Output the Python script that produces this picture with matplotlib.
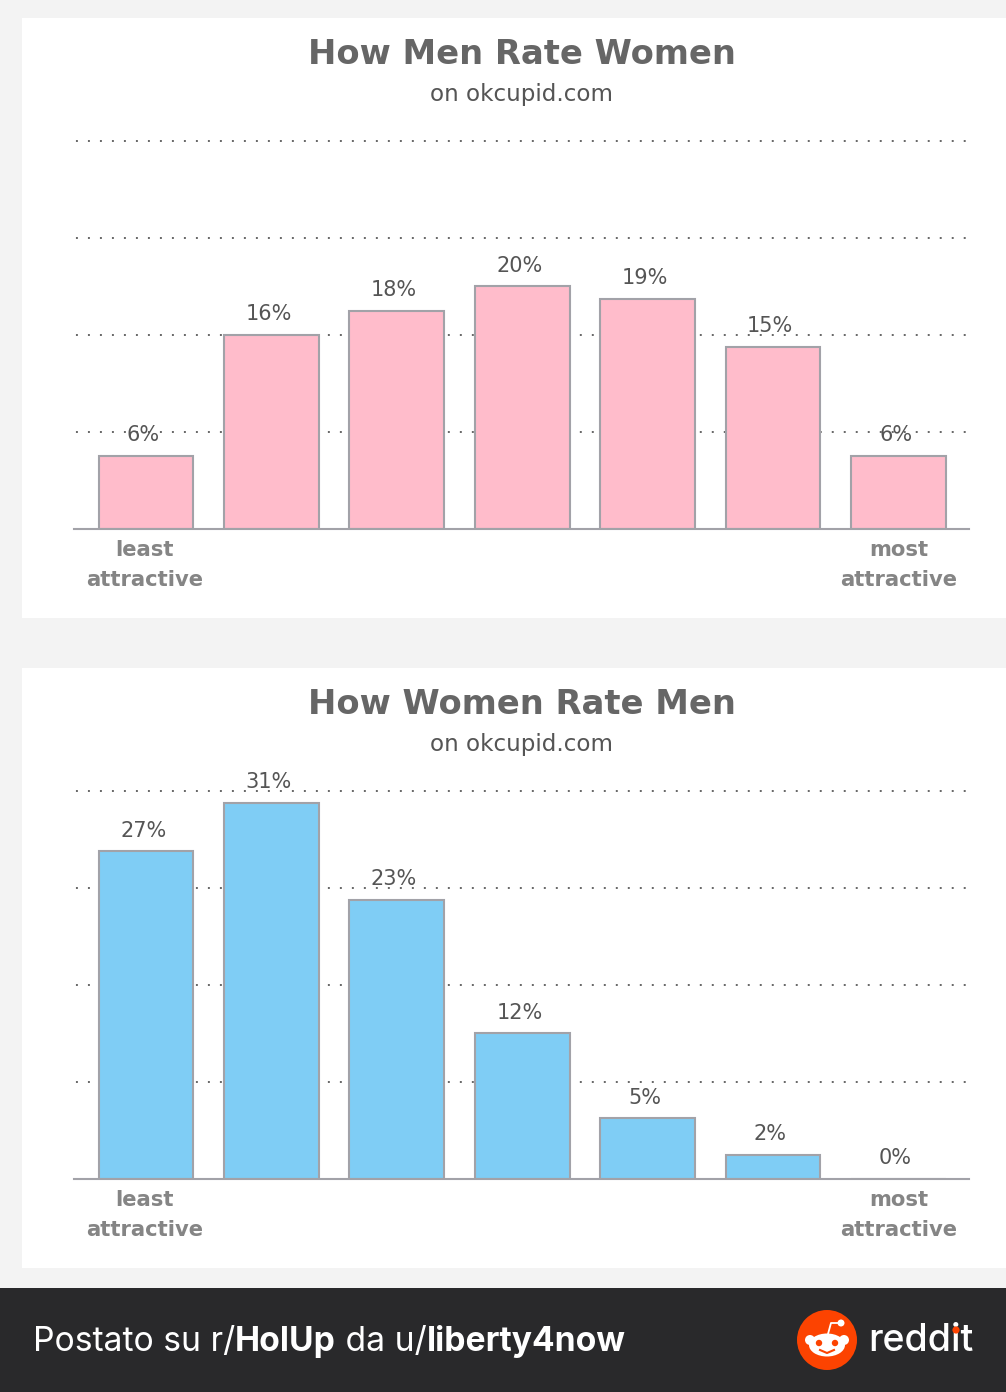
import matplotlib
matplotlib.use("Agg")
import matplotlib.pyplot as plt
from matplotlib.patches import Circle, Ellipse, Rectangle

W, H = 1006, 1392
BG, WHITE, DARK = "#f3f3f3", "#ffffff", "#29292b"
EDGE, TITLE, SUB, LABEL = "#a2a2a8", "#666666", "#555555", "#858585"

positions = [0, 1, 2, 3, 4, 5, 6]
men_rate_women = [6, 16, 18, 20, 19, 15, 6]
women_rate_men = [27, 31, 23, 12, 5, 2, 0]
grid_values = [8, 16, 24, 32]
end_labels = ["least\nattractive", "most\nattractive"]


def chart(fig, bg, top, title, values, color):
    # top = pixel y of the white panel; everything else hangs off it
    bg.add_patch(Rectangle((22, top), W - 22, 600, color=WHITE, lw=0))
    bg.text(522, top + 37, title, ha="center", va="center", fontsize=24.3,
            fontweight="bold", color=TITLE)
    bg.text(522, top + 76, "on okcupid.com", ha="center", va="center",
            fontsize=16.6, color=SUB)

    base = top + 511
    px_per_unit = 12.13
    ymax = 34
    ax_h = ymax * px_per_unit
    ax = fig.add_axes([74 / W, 1 - base / H, (969 - 74) / W, ax_h / H])
    ax.patch.set_alpha(0)
    ax.set_xlim(-0.574, 6.563)
    ax.set_ylim(0, ymax)
    for g in grid_values:
        ax.axhline(g, color="#666666", lw=1.4, ls=(5.17, (1, 5.17)), zorder=1)
    ax.bar(positions, values, width=0.755, color=color, edgecolor=EDGE,
           linewidth=1.5, zorder=2)
    for x, v in zip(positions, values):
        ax.annotate(f"{v}%", (x, v), xytext=(-2, 15), textcoords="offset points",
                    ha="center", va="center", fontsize=15, color=SUB, zorder=3)
    ax.set_xticks([])
    ax.set_yticks([])
    for side in ["top", "left", "right"]:
        ax.spines[side].set_visible(False)
    ax.spines["bottom"].set_color(EDGE)
    ax.spines["bottom"].set_linewidth(1.5)

    for cx, text in zip([145, 899], end_labels):
        bg.text(cx, base + 36, text, ha="center", va="center", fontsize=15.2,
                fontweight="bold", color=LABEL, linespacing=1.65)


def footer(bg):
    bg.add_patch(Rectangle((0, 1288), W, 104, color=DARK, lw=0))
    parts = [("Postato su r/", "normal"), ("HolUp", "bold"), (" da u/", "normal"),
             ("liberty4now", "bold")]
    fig = bg.figure
    fig.canvas.draw()
    rend = fig.canvas.get_renderer()
    size = 24.2

    def width(s, weight):
        probe = bg.text(0, 0, s, fontsize=size, fontweight=weight, family="Inter")
        w = probe.get_window_extent(rend).width
        probe.remove()
        return w

    x = 33
    for s, weight in parts:
        bg.text(x, 1342, s, ha="left", va="center", fontsize=size,
                fontweight=weight, family="Inter", color=WHITE)
        # bars either side so the spaces get counted
        x += width("|" + s + "|", weight) - width("||", weight)

    # reddit logo
    orange = "#fc4301"
    bg.add_patch(Circle((827, 1340), 30, color=orange, lw=0))
    bg.add_patch(Ellipse((827, 1345), 36, 23, color=WHITE, lw=0))
    bg.add_patch(Circle((810, 1340), 5, color=WHITE, lw=0))
    bg.add_patch(Circle((844, 1340), 5, color=WHITE, lw=0))
    bg.add_patch(Circle((819, 1343), 3.2, color=orange, lw=0))
    bg.add_patch(Circle((835, 1343), 3.2, color=orange, lw=0))
    bg.plot([820, 827, 834], [1350, 1353, 1350], color=orange, lw=1.5)
    bg.plot([828, 831, 838], [1334, 1323, 1323], color=WHITE, lw=1.3)
    bg.add_patch(Circle((841, 1323), 3.5, color=WHITE, lw=0))
    bg.text(868, 1341, "reddit", ha="left", va="center", fontsize=27,
            fontweight="medium", family="Inter", color=WHITE)
    bg.add_patch(Circle((956, 1330), 3.6, color=orange, lw=0, zorder=5))


fig = plt.figure(figsize=(W / 100, H / 100), dpi=100, facecolor=BG)
bg = fig.add_axes([0, 0, 1, 1])
bg.set_xlim(0, W)
bg.set_ylim(H, 0)
bg.axis("off")

chart(fig, bg, 18, "How Men Rate Women", men_rate_women, "#ffbccb")
chart(fig, bg, 668, "How Women Rate Men", women_rate_men, "#7fcdf5")
footer(bg)

fig.savefig("out.png", dpi=100, facecolor=BG)
